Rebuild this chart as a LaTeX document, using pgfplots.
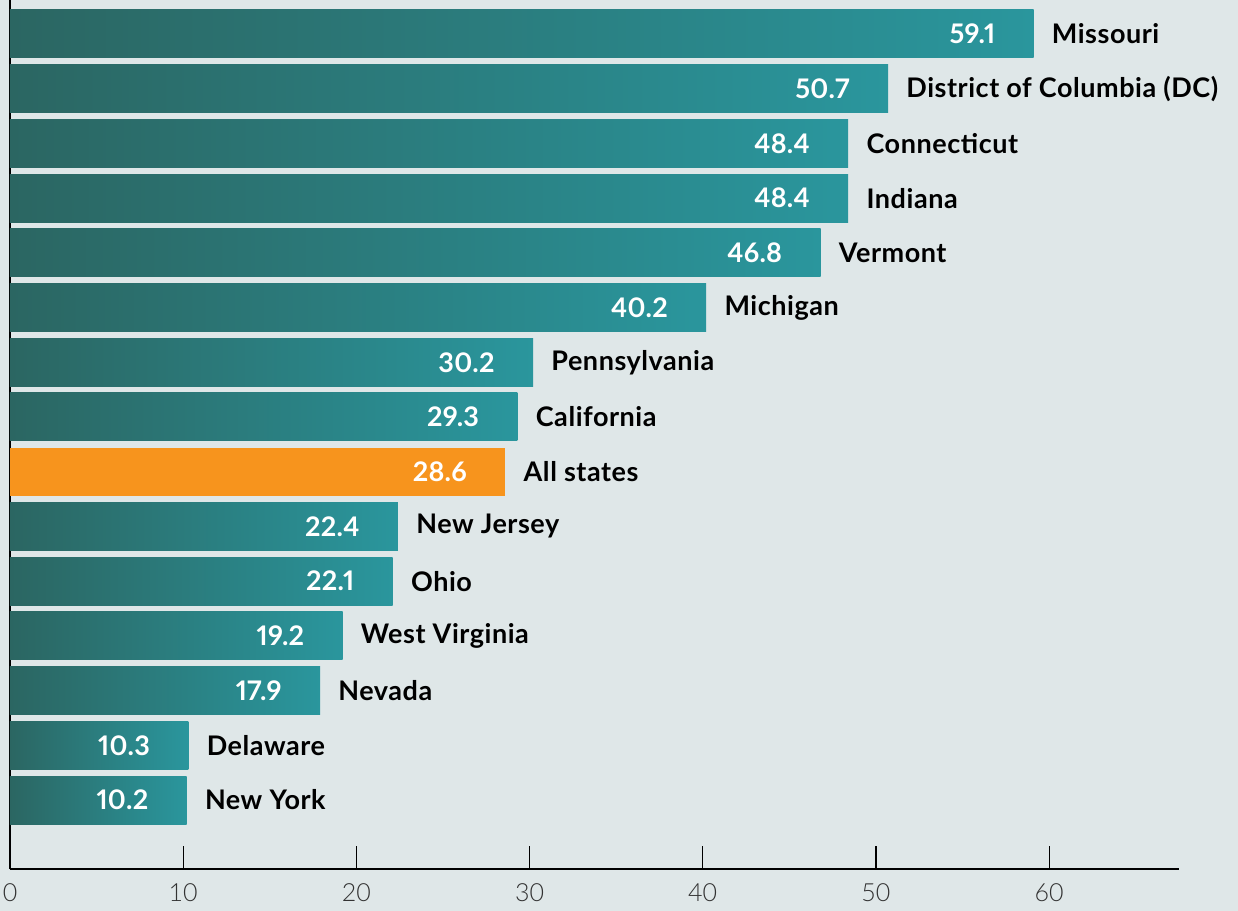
\documentclass[border=0pt]{standalone}
\usepackage{pgfplots}
\usepackage{pgfplotstable}
\pgfplotsset{compat=1.18}
\usepackage{fontspec}
\setmainfont{Lato}[LetterSpace=2]
\newfontfamily\lightfont{Lato Light}
\newfontfamily\valfont{Lato}[Numbers=Proportional, LetterSpace=1]

\definecolor{bgc}{HTML}{DFE7E8}
\definecolor{tealdark}{HTML}{2B6662}
\definecolor{teallight}{HTML}{2A969D}
\definecolor{allorange}{HTML}{F7941D}
\definecolor{ticktext}{HTML}{333333}

% y = row position (0 = bottom)
\pgfplotstableread[col sep=comma]{
y,v,name
0,10.2,New York
1,10.3,Delaware
2,17.9,Nevada
3,19.2,West Virginia
4,22.1,Ohio
5,22.4,New Jersey
7,29.3,California
8,30.2,Pennsylvania
9,40.2,Michigan
10,46.8,Vermont
11,48.4,Indiana
12,48.4,Connecticut
13,50.7,District of Columbia (DC)
14,59.1,Missouri
}\statedata

\pgfplotstableread[col sep=comma]{
y,v,name
6,28.6,All states
}\alldata

\begin{document}
\begin{tikzpicture}
\path[use as bounding box, fill=bgc] (-5pt,-21pt) rectangle (614pt,434.5pt);
\begin{axis}[
  at={(0,0)}, anchor=south west,
  scale only axis,
  width=584.5pt, height=434.5pt,
  xmin=0, xmax=67.5,
  ymin=-1.26, ymax=14.62,
  axis x line=bottom, axis y line=left,
  axis line style={-, black, line width=0.6pt},
  xtick={0,10,...,60}, ytick=\empty,
  tick align=inside,
  major tick length=11.5pt,
  tick style={black, line width=0.6pt},
  xticklabel style={font=\lightfont\fontsize{12.5}{14}\selectfont, text=ticktext, yshift=-4pt},
  /pgf/number format/assume math mode=true,
  clip=false,
  valuelbl/.style={nodes near coords, point meta=explicit,
    every node near coord/.append style={anchor=east, xshift=-19pt, inner sep=0pt,
      text=white, font=\valfont\fontsize{13.5}{15}\selectfont\bfseries,
      /pgf/number format/fixed, /pgf/number format/precision=1,
      /pgf/number format/fixed zerofill}},
  namelbl/.style={draw=none, mark=none, nodes near coords={\pgfplotspointmeta},
    point meta=explicit symbolic,
    every node near coord/.append style={anchor=west, xshift=9pt, inner sep=0pt,
      text=black, font=\fontsize{13.5}{15}\selectfont\bfseries}},
]
% one plot per bar, so that each bar gets its own left-to-right shading
\pgfplotsinvokeforeach{0,1,2,3,4,5,7,8,9,10,11,12,13,14}{
  \addplot[xbar, bar width=24pt, bar shift=0pt, draw=none,
    left color=tealdark, right color=teallight, valuelbl,
    y filter/.expression={abs(y-#1)<0.1 ? y : nan}]
    table[x=v, y=y, meta=v] {\statedata};
}
\addplot[xbar, bar width=24pt, bar shift=0pt, draw=none,
  fill=allorange, valuelbl]
  table[x=v, y=y, meta=v] {\alldata};
\addplot[namelbl] table[x=v, y=y, meta=name] {\statedata};
\addplot[namelbl] table[x=v, y=y, meta=name] {\alldata};
\end{axis}
\end{tikzpicture}
\end{document}
